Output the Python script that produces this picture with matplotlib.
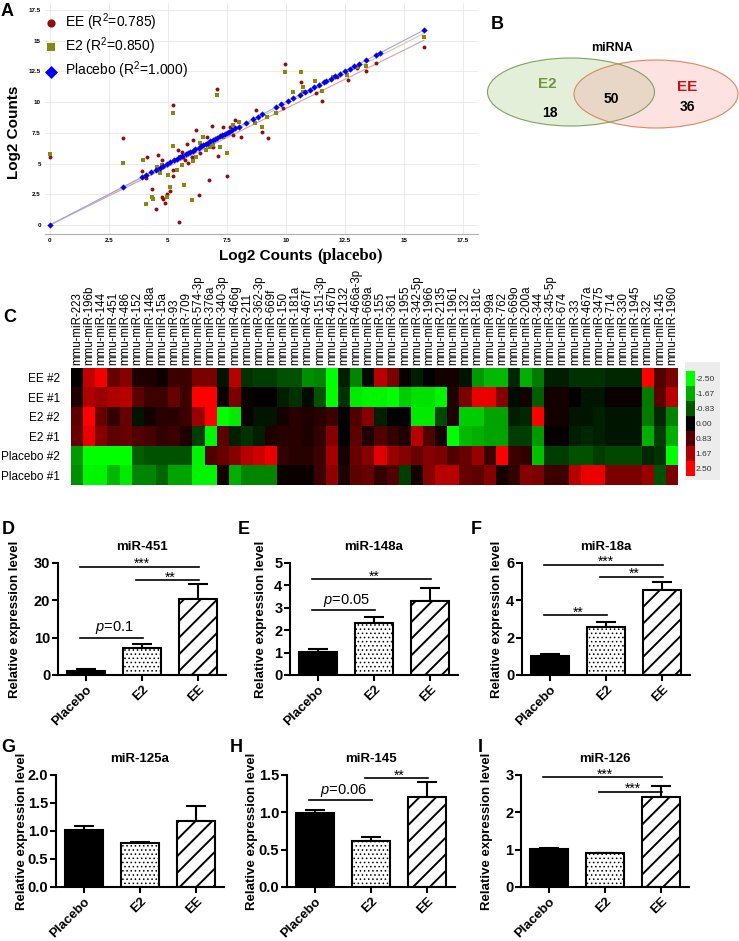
import numpy as np
import matplotlib
matplotlib.use("Agg")
import matplotlib.pyplot as plt
from matplotlib.patches import Ellipse, Rectangle
from matplotlib.colors import LinearSegmentedColormap

plt.rcParams["font.family"] = ["Liberation Sans", "DejaVu Sans"]
plt.rcParams["mathtext.fontset"] = "custom"
plt.rcParams["mathtext.rm"] = "Liberation Sans"
plt.rcParams["mathtext.it"] = "Liberation Sans:italic"
plt.rcParams["hatch.linewidth"] = 1.3

W, H = 739, 941

# --- Data: panel A (log2 counts vs placebo) ------------------------------
placebo_counts = [0.0, 3.1, 3.9, 4.05, 4.3, 4.5, 4.65, 4.8, 4.95, 5.1, 5.25, 5.4,
                  5.5, 5.6, 5.75, 5.85, 5.95, 6.05, 6.15, 6.3, 6.4, 6.5, 6.6, 6.7,
                  6.8, 6.9, 7.0, 7.1, 7.2, 7.3, 7.4, 7.5, 7.6, 7.7, 7.85, 8.0, 8.3,
                  8.6, 8.8, 9.0, 9.6, 9.8, 10.1, 10.3, 10.6, 10.8, 11.0, 11.2, 11.4,
                  11.6, 11.7, 11.9, 12.1, 12.3, 12.5, 12.7, 12.9, 13.1, 13.4, 13.8,
                  14.0, 15.85]
ee_x = [0.0, 3.08, 3.91, 4.05, 4.1, 4.31, 4.49, 4.59, 4.73, 4.73, 4.8, 4.87, 4.94,
        5.08, 5.2, 5.23, 5.2, 5.44, 5.58, 5.65, 5.48, 5.72, 5.79, 5.86, 6.0, 6.07,
        6.21, 6.33, 6.36, 6.4, 6.64, 6.74, 6.85, 6.92, 7.1, 7.13, 7.34, 7.49, 7.63,
        7.77, 7.84, 8.08, 8.73, 8.97, 9.22, 9.89, 9.96, 10.64, 11.27, 11.51, 12.15,
        12.64, 13.0, 13.4, 13.8, 15.85]
ee_y = [5.56, 7.05, 4.36, 3.79, 5.56, 2.93, 1.27, 5.69, 5.28, 2.3, 2.09, 1.76, 2.52,
        2.79, 9.76, 4.47, 4.01, 6.1, 5.96, 5.56, 0.27, 5.28, 6.56, 5.01, 5.56, 6.91,
        7.72, 2.44, 5.88, 6.45, 7.18, 3.66, 8.08, 6.37, 11.03, 5.61, 7.99, 4.01, 7.94,
        7.32, 8.54, 7.13, 9.35, 7.59, 7.05, 9.49, 13.09, 11.6, 10.7, 10.11, 12.0,
        11.8, 12.74, 12.5, 13.2, 14.5]
e2_x = [0.0, 3.08, 3.95, 4.07, 4.31, 4.38, 4.52, 4.66, 4.73, 4.94, 5.01, 5.08, 5.2,
        5.23, 5.37, 5.51, 5.58, 5.69, 6.0, 6.07, 6.21, 6.36, 6.5, 6.61, 6.78, 6.92,
        7.06, 7.2, 7.34, 7.49, 7.63, 7.77, 8.02, 8.69, 8.97, 9.18, 9.6, 9.96, 10.31,
        10.64, 10.71, 10.73, 11.23, 11.51, 12.0, 12.57, 13.06, 13.4, 15.85]
e2_y = [5.77, 5.01, 5.28, 1.71, 2.3, 2.09, 4.74, 4.25, 4.88, 2.3, 4.07, 3.12, 9.13,
        6.45, 4.47, 5.56, 4.88, 3.25, 2.03, 5.23, 5.56, 6.64, 7.13, 6.1, 6.37, 6.5,
        10.57, 6.37, 7.18, 5.83, 7.59, 8.13, 8.4, 8.27, 8.0, 8.81, 9.08, 12.47, 10.84,
        12.47, 11.25, 10.84, 11.73, 10.92, 12.06, 12.2, 12.87, 12.9, 15.26]
r2_ee, r2_e2, r2_placebo = 0.785, 0.850, 1.000
axis_ticks_a = [0, 2.5, 5, 7.5, 10, 12.5, 15, 17.5]

# --- Data: panel B (Venn) -----------------------------------------------
venn_only_e2, venn_shared, venn_only_ee = 18, 50, 36

# --- Data: panel C (heatmap) ----------------------------------------------
mirnas = ["223", "196b", "144", "451", "486", "152", "148a", "15a", "93", "709",
          "574-3p", "376a", "340-3p", "466g", "211", "362-3p", "669f", "150", "181a",
          "467f", "151-3p", "467b", "2132", "466a-3p", "669a", "155", "361", "1955",
          "342-5p", "1966", "2135", "1961", "132", "181c", "99a", "762", "669o",
          "200a", "344", "345-5p", "674", "33", "467a", "3475", "714", "330", "1945",
          "32", "145", "1960"]
samples = ["EE #2", "EE #1", "E2 #2", "E2 #1", "Placebo #2", "Placebo #1"]
ee_2 = [0.05, 1.9, 2.4, 1.0, 1.3, 0.3, 0.3, 0.15, 0.6, 0.6,
        1.2, 1.2, -0.2, 1.8, -0.5, -0.6, -0.6, -0.8, -0.8, -1.4,
        -1.3, -2.5, -0.3, -1.3, -0.1, 1.8, 1.2, 0.1, -0.3, 0.0,
        0.2, 0.2, -0.2, -1.5, -1.8, -1.8, -0.4, -1.7, -1.2, -0.3,
        -0.3, -0.5, -0.5, -0.5, -0.4, -0.4, -0.4, 2.5, 0.8, 1.2]
ee_1 = [0.3, 1.7, 1.5, 1.7, 1.8, 0.9, 0.6, 0.6, 1.0, 0.6,
        2.5, 2.5, 0.1, 1.2, 0.1, 0.05, 0.05, -0.3, -0.5, -0.1,
        -0.8, -2.5, -0.5, -2.3, -2.4, -2.4, -2.5, -2.0, -2.2, -2.2,
        -2.4, 0.3, 1.2, 2.3, 2.3, 1.3, -0.1, 0.2, -0.9, 0.2,
        0.2, 0.05, -0.2, -0.2, 0.1, 0.1, 0.1, -1.2, 0.9, 1.8]
e2_2 = [0.9, 2.5, 1.0, 0.5, 1.0, -0.2, 0.2, 0.4, 0.4, 0.6,
        1.5, 2.5, -2.5, -2.3, 0.1, -0.2, -0.2, 0.2, 0.4, 0.3,
        0.4, 0.6, 0.05, 0.8, 1.3, -0.3, 0.0, 0.0, -2.3, -2.3,
        -0.7, 0.3, -2.0, -2.0, -1.6, -1.6, -0.3, -0.4, 2.5, 0.2,
        0.2, -0.2, -0.2, -0.3, -0.2, -0.2, -0.2, -1.2, -0.4, -1.3]
e2_1 = [1.0, 2.3, 1.3, 0.9, 1.0, 0.8, 0.7, 0.5, 0.6, 0.3,
        -0.6, -2.4, 0.9, -0.3, -0.5, -0.3, 0.3, 0.4, 0.4, 0.3,
        0.5, 1.3, 0.0, 0.9, 0.3, 0.8, 0.5, 0.3, 1.8, 0.8,
        0.2, -2.5, -1.8, -1.7, -1.6, -1.6, -0.6, -0.6, -1.5, 0.05,
        0.05, -0.3, -0.4, -0.3, -0.2, -0.2, -0.2, -1.7, -0.6, -1.7]
placebo_2 = [-1.5, -2.5, -2.5, -2.5, -2.5, -0.9, -0.8, -0.8, -0.8, -0.8,
             -2.4, 0.8, 1.0, 1.3, 1.8, 2.0, 2.3, 0.5, 0.4, 0.4,
             0.6, 1.6, 0.2, 1.0, 1.3, 2.2, 1.5, 1.3, 1.0, 1.3,
             1.2, 0.8, 1.0, 1.5, 0.6, 2.5, 0.6, 0.5, -1.9, -0.6,
             -0.6, -0.8, -0.8, -0.6, -0.7, -0.7, -0.7, -0.4, -0.5, -2.5]
placebo_1 = [-1.4, -2.4, -2.4, -1.8, -2.3, -1.3, -1.3, -1.0, -1.6, -1.6,
             -2.4, -2.4, 0.2, -1.7, -1.3, -1.3, -1.3, 0.1, 0.1, 0.1,
             0.6, 1.4, 0.3, 0.9, 1.0, 0.5, 0.8, -0.6, 0.2, 1.3,
             1.8, 1.8, 1.0, 0.9, 1.3, 0.2, 0.5, 1.3, 1.2, 0.6,
             0.6, 1.8, 2.3, 2.3, 1.2, 1.2, 1.2, 1.5, -0.8, 1.2]
scale_levels = [-2.50, -1.67, -0.83, 0.00, 0.83, 1.67, 2.50]

# --- Data: panels D-I (qPCR) --------------------------------------------
groups = ["Placebo", "E2", "EE"]
titles = ["miR-451", "miR-148a", "miR-18a", "miR-125a", "miR-145", "miR-126"]
means = [[1.15, 7.3, 20.4], [1.04, 2.31, 3.3], [1.04, 2.59, 4.55],
         [1.02, 0.78, 1.17], [0.987, 0.616, 1.2], [1.01, 0.90, 2.4]]
errs = [[0.35, 0.9, 4.0], [0.11, 0.29, 0.6], [0.09, 0.25, 0.45],
        [0.075, 0.02, 0.28], [0.045, 0.058, 0.2], [0.04, 0.015, 0.31]]
yticks = [[0, 10, 20, 30], [0, 1, 2, 3, 4, 5], [0, 2, 4, 6],
          [0.0, 0.5, 1.0, 1.5, 2.0], [0.0, 0.5, 1.0, 1.5], [0, 1, 2, 3]]
# (group i, group j, bracket height, label)
brackets = [
    [(0, 1, 10.0, "$\\it{p}$=0.1"), (0, 2, 29.0, "***"), (1, 2, 25.4, "**")],
    [(0, 1, 2.9, "$\\it{p}$=0.05"), (0, 2, 4.27, "**")],
    [(0, 1, 3.2, "**"), (0, 2, 5.9, "***"), (1, 2, 5.27, "**")],
    [],
    [(0, 1, 1.165, "$\\it{p}$=0.06"), (1, 2, 1.456, "**")],
    [(0, 2, 2.94, "***"), (1, 2, 2.55, "***")],
]


def add_px_axes(x0, y0, x1, y1):
    return fig.add_axes([x0 / W, 1 - y1 / H, (x1 - x0) / W, (y1 - y0) / H])


fig = plt.figure(figsize=(W / 100, H / 100), dpi=100)

# overlay for letters, Venn and backgrounds (pixel coordinates)
ov = fig.add_axes([0, 0, 1, 1])
ov.set_xlim(0, W)
ov.set_ylim(H, 0)
ov.axis("off")

for letter, (lx, ly) in {"A": (7, 11), "B": (497, 24), "C": (10, 318), "D": (8, 529),
                         "E": (244, 529), "F": (476, 529), "G": (8, 747),
                         "H": (236, 747), "I": (480, 747)}.items():
    ov.text(lx, ly, letter, fontsize=13, fontweight="bold", ha="center", va="center")

# --- Panel A -------------------------------------------------------------
axA = add_px_axes(45, 3, 478, 234)
axA.set_xlim(-0.21, 18.14)
axA.set_ylim(-0.73, 18.05)
axA.grid(color="#e8e8e8", lw=0.6)
axA.set_axisbelow(True)
for s in ["top", "right", "left"]:
    axA.spines[s].set_visible(False)
axA.spines["bottom"].set_color("#b0b0b0")
axA.spines["bottom"].set_linewidth(0.8)
axA.set_xticks(axis_ticks_a)
axA.set_yticks(axis_ticks_a)
tick_txt = ["%g" % t for t in axis_ticks_a]
axA.set_xticklabels(tick_txt)
axA.set_yticklabels(tick_txt)
axA.tick_params(length=0, labelsize=4.5, pad=3)
for lab in axA.get_xticklabels() + axA.get_yticklabels():
    lab.set_fontweight("bold")

# fits through the origin
line_end = max(placebo_counts)
for xs, ys, col in [(ee_x, ee_y, "#d8a0a0"), (e2_x, e2_y, "#d2cba0"),
                    (placebo_counts, placebo_counts, "#a0a0f0")]:
    xs, ys = np.asarray(xs), np.asarray(ys)
    k = np.sum(xs * ys) / np.sum(xs * xs)
    axA.plot([0, line_end], [0, k * line_end], color=col, lw=0.8, zorder=1)

axA.scatter(ee_x, ee_y, s=8, marker="o", color="#8b1010", linewidths=0, zorder=3,
            label="EE (R$^2$=%.3f)" % r2_ee)
axA.scatter(e2_x, e2_y, s=8, marker="s", color="#888810", linewidths=0, zorder=3,
            label="E2 (R$^2$=%.3f)" % r2_e2)
axA.scatter(placebo_counts, placebo_counts, s=10, marker="D", color="#0000ee",
            linewidths=0, zorder=4, label="Placebo (R$^2$=%.3f)" % r2_placebo)
axA.legend(loc="upper left", bbox_to_anchor=(-0.002, 0.965), frameon=False,
           fontsize=10, markerscale=2.1, handlelength=1.0, handletextpad=0.5,
           labelspacing=0.2, borderpad=0, borderaxespad=0)
fig.text(14 / W, 1 - 132 / H, "Log2 Counts", rotation=90, fontsize=11,
         fontweight="bold", ha="center", va="center")
fig.text(312 / W, 1 - 256 / H, "Log2 Counts", fontsize=11, fontweight="bold",
         ha="right", va="center")
fig.text(317 / W, 1 - 256 / H, "(placebo)", fontsize=12, fontweight="bold",
         family="Liberation Serif", ha="left", va="center")

# --- Panel B: Venn -------------------------------------------------------
e2_shape = dict(xy=(571, 92), width=167, height=68)
ee_shape = dict(xy=(656, 94), width=164, height=68)
ov.add_patch(Ellipse(**e2_shape, facecolor="#e3efd9", edgecolor="none"))
ov.add_patch(Ellipse(**ee_shape, facecolor="#fde2e2", edgecolor="none"))
clip_ee = Ellipse(**ee_shape, transform=ov.transData)
overlap = Ellipse(**e2_shape, facecolor="#e8d6c6", edgecolor="none")
ov.add_patch(overlap)
overlap.set_clip_path(clip_ee)
ov.add_patch(Ellipse(**e2_shape, facecolor="none", edgecolor="#7da35c", lw=0.8))
ov.add_patch(Ellipse(**ee_shape, facecolor="none", edgecolor="#e0875a", lw=0.8))
ov.text(612, 48, "miRNA", fontsize=9, fontweight="bold", ha="center", va="center")
ov.text(547, 84, "E2", fontsize=11, fontweight="bold", color="#6a9a3a",
        ha="center", va="center")
ov.text(687, 87, "EE", fontsize=11, fontweight="bold", color="#cc1010",
        ha="center", va="center")
ov.text(550, 113, str(venn_only_e2), fontsize=10, fontweight="bold", ha="center", va="center")
ov.text(611, 99, str(venn_shared), fontsize=10, fontweight="bold", ha="center", va="center")
ov.text(687, 107, str(venn_only_ee), fontsize=10, fontweight="bold", ha="center", va="center")

# --- Panel C: heatmap ----------------------------------------------------
gbr = LinearSegmentedColormap.from_list("gbr", ["#00ff00", "#000000", "#ff0000"])
heat = np.array([ee_2, ee_1, e2_2, e2_1, placebo_2, placebo_1])
axC = add_px_axes(71, 368, 678, 485)
axC.imshow(heat, cmap=gbr, vmin=-2.5, vmax=2.5, aspect="auto", interpolation="nearest")
axC.xaxis.tick_top()
axC.set_xticks(range(len(mirnas)))
axC.set_xticklabels(["mmu-miR-" + m for m in mirnas], rotation=90, fontsize=8.3,
                    family=["Liberation Sans Narrow", "Liberation Sans"])
axC.set_yticks(range(len(samples)))
axC.set_yticklabels(samples, fontsize=8.5)
axC.tick_params(length=0, pad=2)
axC.tick_params(axis="y", pad=8)
for s in axC.spines.values():
    s.set_visible(False)

ov.add_patch(Rectangle((685, 362), 35, 118, facecolor="#ececec", edgecolor="none"))
axCB = add_px_axes(686, 371, 695, 476)
axCB.imshow(np.array(scale_levels).reshape(-1, 1), cmap=gbr, vmin=-2.5, vmax=2.5,
            aspect="auto", interpolation="nearest")
axCB.set_xticks([])
axCB.yaxis.tick_right()
axCB.set_yticks(range(len(scale_levels)))
axCB.set_yticklabels(["%.2f" % v for v in scale_levels], fontsize=6, color="#333333",
                     family=["Liberation Sans Narrow", "Liberation Sans"])
axCB.tick_params(length=0, pad=0.5)
for s in axCB.spines.values():
    s.set_visible(False)

# --- Panels D-I: bar charts ----------------------------------------------
panel_boxes = [(58, 563), (290, 563), (522, 563), (56, 775), (287, 775), (521, 775)]
ylabel_right = [21, 267, 503, 28, 258, 493]
faces = ["black", "white", "white"]
hatches = [None, "....", "//"]
hatch_lw = [1.0, 0.6, 1.4]

for k in range(6):
    x0, y0 = panel_boxes[k]
    ax = add_px_axes(x0, y0, x0 + 168, y0 + 112)
    pos = np.arange(len(groups))
    bars = ax.bar(pos, means[k], width=0.68, color=faces, edgecolor="black",
                  linewidth=1.5, zorder=2)
    for bar, h, hl in zip(bars, hatches, hatch_lw):
        if h:
            bar.set_hatch(h)
            if hasattr(bar, "set_hatch_linewidth"):
                bar.set_hatch_linewidth(hl)
    ax.errorbar(pos, means[k], yerr=[np.zeros(3), errs[k]], fmt="none", ecolor="black",
                elinewidth=1.5, capsize=7, capthick=1.5, zorder=1)
    ax.set_xlim(-0.5, 2.5)
    ax.set_ylim(0, yticks[k][-1])
    ax.set_yticks(yticks[k])
    if k in (3, 4):
        ax.set_yticklabels(["%.1f" % t for t in yticks[k]])
    ax.set_xticks(pos)
    ax.set_xticklabels(groups, rotation=45, ha="right", rotation_mode="anchor")
    ax.tick_params(width=1.5, length=4, labelsize=9.5, pad=2)
    ax.tick_params(axis="y", labelsize=10.5, pad=1.5)
    for lab in ax.get_xticklabels() + ax.get_yticklabels():
        lab.set_fontweight("bold")
    for s in ["top", "right"]:
        ax.spines[s].set_visible(False)
    for s in ["left", "bottom"]:
        ax.spines[s].set_linewidth(1.5)
    ax.set_title(titles[k], fontsize=9.5, fontweight="bold", pad=9)
    ax.set_ylabel("Relative expression level", fontsize=9.5, fontweight="bold")
    ax.yaxis.set_label_coords((ylabel_right[k] - x0) / 168, 0.5)
    for i, j, yb, lab in brackets[k]:
        ax.plot([i - 0.1, j + 0.02], [yb, yb], color="black", lw=1.2, clip_on=False)
        star = lab.startswith("*")
        ax.annotate(lab, ((i + j) / 2, yb), xytext=(0, -3 if star else 1),
                    textcoords="offset points", ha="center", va="bottom",
                    fontsize=10 if star else 10.5, annotation_clip=False)

fig.savefig("out.png", dpi=100)
